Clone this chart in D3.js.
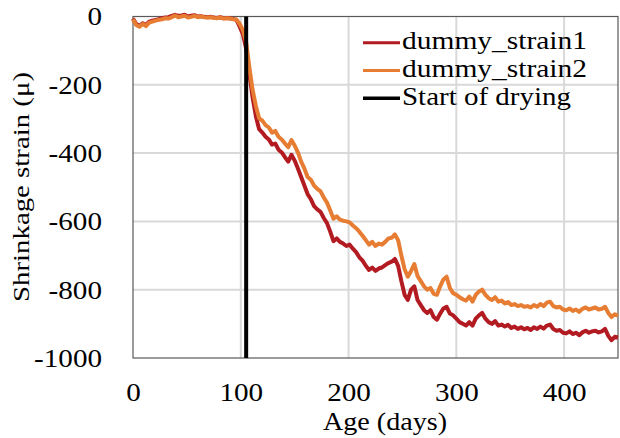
<!DOCTYPE html>
<html><head><meta charset="utf-8">
<script src="https://cdn.jsdelivr.net/npm/d3@7"></script>
<style>body{margin:0;background:#fff}svg{display:block}</style>
</head><body><svg id="c" width="620" height="438"></svg>
<script>
const days = [0,3,6,9,12,15,18,21,24,27,30,33,36,39,42,45,48,51,54,57,60,63,66,69,72,75,78,81,84,87,90,93,96,99,
102,105,108,111,114,117,120,123,126,129,132,135,138,141,144,147,150,153,156,159,162,165,168,171,174,177,180,183,186,189,192,195,198,
201,204,207,210,213,216,219,222,225,228,231,234,237,240,243,246,249,252,255,258,261,264,267,270,273,276,279,282,285,288,291,294,297,300,
303,306,309,312,315,318,321,324,327,330,333,336,339,342,345,348,351,354,357,360,363,366,369,372,375,378,381,384,387,390,393,396,399,
402,405,408,411,414,417,420,423,426,429,432,435,438,441,444,447,450];
const strain1 = [-6,-22,-28,-20,-25,-15,-12,-10,-8,-5,-3,-2,2,5,2,3,5,0,2,4,0,1,-1,-2,-1,-3,-4,-2,-5,-4,-5,-7,-10,-30,
-52,-95,-168,-238,-292,-330,-340,-352,-360,-375,-372,-390,-398,-412,-425,-405,-422,-445,-470,-495,-520,-535,-555,-565,-572,-590,-605,-630,-658,-650,-660,-665,-672,
-668,-680,-690,-705,-715,-730,-742,-735,-745,-738,-735,-728,-722,-718,-710,-730,-775,-815,-830,-800,-790,-830,-845,-860,-868,-860,-880,-888,-870,-855,-850,-870,-875,-885,
-895,-900,-905,-895,-905,-885,-875,-868,-885,-895,-900,-892,-905,-902,-908,-903,-912,-908,-915,-910,-916,-912,-918,-910,-915,-908,-914,-905,-902,-915,-920,-918,-926,
-928,-922,-930,-926,-933,-925,-920,-926,-922,-920,-925,-922,-915,-935,-948,-938,-940];
const strain2 = [-8,-25,-30,-22,-28,-18,-15,-12,-10,-8,-5,-6,-2,3,-2,0,2,-3,-1,2,-2,0,-2,-3,-2,-4,-5,-3,-6,-5,-6,-8,-9,-22,
-40,-75,-150,-215,-262,-298,-305,-318,-325,-340,-335,-352,-360,-372,-383,-362,-378,-398,-425,-445,-470,-478,-495,-505,-512,-530,-545,-568,-592,-585,-595,-598,-600,
-603,-612,-620,-630,-642,-655,-668,-660,-672,-665,-668,-660,-650,-648,-638,-655,-700,-740,-762,-745,-725,-760,-775,-790,-800,-795,-812,-815,-790,-770,-762,-795,-810,-815,
-822,-828,-832,-820,-835,-815,-805,-800,-815,-825,-830,-822,-835,-832,-840,-836,-845,-842,-848,-845,-850,-848,-852,-845,-850,-842,-848,-838,-835,-848,-852,-850,-858,
-860,-855,-862,-858,-865,-856,-852,-858,-855,-852,-858,-856,-850,-868,-880,-872,-876];
const dryingStart = 105;
const xTicks = [0,100,200,300,400];
const yTicks = [0,-200,-400,-600,-800,-1000];
const seriesNames = ["dummy_strain1","dummy_strain2","Start of drying"];
const colors = ["#b31b22","#e67d33","#000000"];

const svg = d3.select("#c");
const L=133,R=618,T=16.5,B=358;
const x = d3.scaleLinear().domain([0,450]).range([L,R]);
const y = d3.scaleLinear().domain([-1000,0]).range([B,T]);
const font = "'Liberation Serif', serif";
const widen = (sel,f)=>sel.each(function(){const w=this.getComputedTextLength();d3.select(this).attr("textLength",w*f).attr("lengthAdjust","spacingAndGlyphs");});

// grid
svg.append("g").selectAll("line").data(xTicks.filter(d=>d>0)).join("line")
  .attr("x1",d=>x(d)).attr("x2",d=>x(d)).attr("y1",T).attr("y2",B)
  .attr("stroke","#d9d9d9").attr("stroke-width",2);
svg.append("g").selectAll("line").data(yTicks.filter(d=>d>-1000&&d<0)).join("line")
  .attr("y1",d=>y(d)).attr("y2",d=>y(d)).attr("x1",L).attr("x2",R)
  .attr("stroke","#d9d9d9").attr("stroke-width",2);
svg.append("rect").attr("x",L).attr("y",T).attr("width",R-L).attr("height",B-T)
  .attr("fill","none").attr("stroke","#595959").attr("stroke-width",1.2);

const xa = svg.append("g").attr("transform",`translate(0,${B})`)
  .call(d3.axisBottom(x).tickValues(xTicks).tickSize(0).tickPadding(25).tickFormat(d3.format("d")));
xa.select(".domain").remove();
xa.selectAll("text").attr("font-family",font).attr("font-size",26).attr("fill","#000");
widen(xa.selectAll("text"),1.12);
const ya = svg.append("g").attr("transform",`translate(${L},0)`)
  .call(d3.axisLeft(y).tickValues(yTicks).tickSize(0).tickPadding(31).tickFormat(d=>d===0?"0":String(d)));
ya.select(".domain").remove();
ya.selectAll("text").attr("font-family",font).attr("font-size",26).attr("fill","#000");
widen(ya.selectAll("text"),1.12);

const line = d3.line().x((d,i)=>x(days[i])).y(d=>y(d));
svg.append("path").datum(strain1).attr("d",line).attr("fill","none").attr("stroke",colors[0]).attr("stroke-width",4).attr("stroke-linejoin","round");
svg.append("path").datum(strain2).attr("d",line).attr("fill","none").attr("stroke",colors[1]).attr("stroke-width",4).attr("stroke-linejoin","round");
svg.append("line").attr("x1",x(dryingStart)).attr("x2",x(dryingStart)).attr("y1",y(0)).attr("y2",y(-1000))
  .attr("stroke","#000").attr("stroke-width",4);

svg.append("text").attr("x",385).attr("y",430).attr("text-anchor","middle")
  .attr("font-family",font).attr("font-size",26).text("Age (days)")
  .attr("textLength",124).attr("lengthAdjust","spacingAndGlyphs");
svg.append("text").attr("transform","translate(29,187) rotate(-90)").attr("text-anchor","middle")
  .attr("font-family",font).attr("font-size",24).text("Shrinkage strain (μ)")
  .attr("textLength",230).attr("lengthAdjust","spacingAndGlyphs");

const legendW = [185,185,169];
const lg = svg.append("g");
seriesNames.forEach((n,i)=>{
  const yy = 42.7 + i*27.8;
  lg.append("line").attr("x1",363).attr("x2",400).attr("y1",yy).attr("y2",yy)
    .attr("stroke",colors[i]).attr("stroke-width",i===2?3.5:3);
  lg.append("text").attr("x",402).attr("y",yy+6.6)
    .attr("font-family",font).attr("font-size",26).text(n)
    .attr("textLength",legendW[i]).attr("lengthAdjust","spacingAndGlyphs");
});
</script></body></html>
